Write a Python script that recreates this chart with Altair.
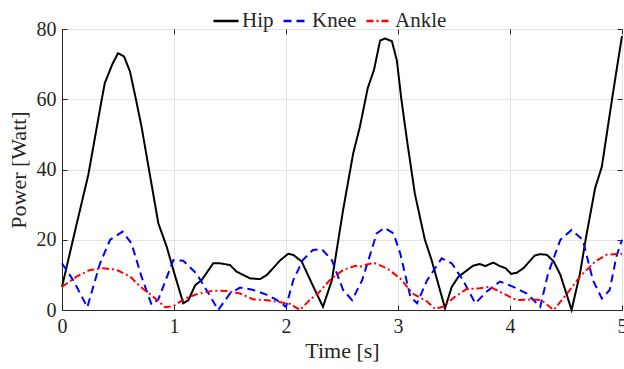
import altair as alt
import pandas as pd

# ---------------- data ----------------
hip_t = [0, 0.12, 0.235, 0.354, 0.382, 0.45, 0.5, 0.554, 0.607, 0.66, 0.71, 0.86, 0.935, 0.994,
         1.083, 1.128, 1.19, 1.247, 1.35, 1.41, 1.5, 1.56, 1.68, 1.77, 1.83, 1.95, 2.02, 2.065,
         2.14, 2.23, 2.33, 2.41, 2.51, 2.60, 2.66, 2.73, 2.786, 2.84, 2.886, 2.946, 2.99, 3.03,
         3.08, 3.15, 3.24, 3.30, 3.42, 3.48, 3.54, 3.60, 3.67, 3.73, 3.78, 3.85, 3.91, 3.96,
         4.01, 4.06, 4.12, 4.22, 4.27, 4.33, 4.39, 4.45, 4.55, 4.625, 4.68, 4.76, 4.82, 4.91,
         4.96, 5.0]
hip_v = [6.6, 23, 38.5, 59.8, 64.6, 70, 73.1, 72.2, 67.9, 60, 52.2, 24.7, 18, 11.4,
         1.9, 2.8, 7.1, 8.5, 13.3, 13.3, 12.8, 10.9, 9.0, 8.8, 10, 14.2, 16, 15.7,
         13.8, 7.6, 0.9, 8.5, 28.5, 44.6, 52.2, 63.2, 68.4, 76.7, 77.3, 76.5, 71, 60,
         48.4, 33.2, 20, 14.2, 0.5, 6.6, 9.5, 10.9, 12.6, 13.1, 12.5, 13.5, 12.5, 11.9,
         10.3, 10.6, 11.9, 15.5, 15.9, 15.7, 13.8, 10, 0, 10.4, 20.9, 34.7, 40.8, 59.8,
         70, 78]

knee_t = [0, 0.1, 0.226, 0.34, 0.43, 0.54, 0.62, 0.71, 0.80, 0.86, 0.994, 1.083, 1.20, 1.29,
          1.395, 1.5, 1.59, 1.71, 1.83, 1.92, 2.0, 2.065, 2.15, 2.24, 2.32, 2.41, 2.51, 2.59,
          2.68, 2.81, 2.88, 2.96, 3.02, 3.11, 3.17, 3.26, 3.39, 3.48, 3.58, 3.69, 3.79, 3.91,
          4.03, 4.15, 4.27, 4.34, 4.45, 4.55, 4.65, 4.74, 4.82, 4.89, 4.95, 5.0]
knee_v = [13.3, 8.5, 0.8, 13.3, 20, 22.3, 19, 9.5, 1.5, 3, 14.2, 14, 10.4, 5.7,
          0, 4.7, 6.4, 5.7, 4.3, 2.8, 0.9, 8.5, 14.2, 17.1, 17.3, 14.2, 5.7, 2.8,
          8.5, 21.8, 23.4, 21.8, 16.1, 3.8, 1.9, 8.5, 14.7, 13.3, 8.5, 1.9, 5.2, 8.1,
          6.6, 4.7, 0.9, 10.4, 20, 22.8, 20, 8.5, 3.3, 5.7, 15.2, 20]

ankle_t = [0, 0.13, 0.25, 0.37, 0.49, 0.61, 0.70, 0.815, 0.92, 0.994, 1.10, 1.20, 1.35, 1.47,
           1.59, 1.71, 1.83, 1.95, 2.04, 2.125, 2.21, 2.30, 2.39, 2.51, 2.62, 2.66, 2.78, 2.90,
           3.02, 3.13, 3.26, 3.33, 3.40, 3.51, 3.61, 3.73, 3.82, 3.94, 4.06, 4.21, 4.28, 4.39,
           4.51, 4.625, 4.76, 4.86, 5.0]
ankle_v = [6.6, 9.5, 11.4, 11.9, 11.4, 9.5, 6.6, 3.8, 0.8, 1.1, 3.3, 4.5, 5.5, 5.4,
           4.7, 3.0, 2.8, 2.2, 1.7, 0, 2.8, 5.2, 8.5, 11.4, 12.6, 12.3, 13.5, 11.9,
           9.0, 4.7, 2.4, 0.3, 0.9, 3.8, 5.9, 6.2, 6.6, 4.7, 2.8, 3.0, 2.8, 0,
           4.7, 9.5, 13.8, 15.7, 16]

series_names = ["Hip", "Knee", "Ankle"]
series_colors = ["#000000", "#0000ff", "#ff0000"]
series_dashes = [[1, 0], [8, 5], [7, 3, 2, 3]]

x_ticks = [0, 1, 2, 3, 4, 5]
y_ticks = [0, 20, 40, 60, 80]

rows = []
for name, ts, vs in [("Hip", hip_t, hip_v), ("Knee", knee_t, knee_v), ("Ankle", ankle_t, ankle_v)]:
    for t, v in zip(ts, vs):
        rows.append({"t": t, "p": v, "s": name})
df = pd.DataFrame(rows)

FONT = "Liberation Serif"
DARK = "#262626"

xscale = alt.Scale(domain=[0, 5], nice=False)
yscale = alt.Scale(domain=[0, 80], nice=False)

main_x = alt.Axis(orient="bottom", values=x_ticks, format="d", title="Time [s]",
                  grid=True, gridColor="#e3e3e3", ticks=False, domainColor=DARK,
                  labelFlush=False, labelOverlap=False,
                  labelFont=FONT, labelFontSize=20, labelColor=DARK, labelPadding=6,
                  titleFont=FONT, titleFontSize=22, titleFontWeight="normal",
                  titleColor=DARK, titlePadding=4)
main_y = alt.Axis(orient="left", values=y_ticks, format="d", title="Power [Watt]",
                  grid=True, gridColor="#e3e3e3", ticks=False, domainColor=DARK,
                  labelFlush=False, labelOverlap=False,
                  labelFont=FONT, labelFontSize=20, labelColor=DARK, labelPadding=6,
                  titleFont=FONT, titleFontSize=22, titleFontWeight="normal",
                  titleColor=DARK, titlePadding=6)

def tick_axis(orient, vals):
    return alt.Axis(orient=orient, values=vals, labels=False, domain=False, grid=False,
                    ticks=True, tickSize=5, offset=-5, tickColor=DARK, title="")

base = alt.Chart(df)

lines = base.mark_line(strokeWidth=2).encode(
    x=alt.X("t:Q", scale=xscale, axis=main_x),
    y=alt.Y("p:Q", scale=yscale, axis=main_y),
    color=alt.Color("s:N", scale=alt.Scale(domain=series_names, range=series_colors),
                    legend=alt.Legend(title="", orient="none", direction="horizontal",
                                      legendX=150, legendY=-22, symbolType="stroke",
                                      symbolSize=625, symbolStrokeWidth=2.5,
                                      labelFont=FONT, labelFontSize=21, labelColor=DARK,
                                      labelOffset=2, columnPadding=4)),
    strokeDash=alt.StrokeDash("s:N", scale=alt.Scale(domain=series_names, range=series_dashes),
                              legend=None),
)

ticks_a = base.mark_point(opacity=0).encode(
    x=alt.X("t:Q", scale=xscale, axis=tick_axis("bottom", x_ticks)),
    y=alt.Y("p:Q", scale=yscale, axis=tick_axis("left", y_ticks)),
)
ticks_b = base.mark_point(opacity=0).encode(
    x=alt.X("t:Q", scale=xscale, axis=tick_axis("top", x_ticks)),
    y=alt.Y("p:Q", scale=yscale, axis=tick_axis("right", y_ticks)),
)

chart = alt.layer(lines, ticks_a, ticks_b).resolve_axis(
    x="independent", y="independent"
).properties(
    width=560, height=281,
    autosize=alt.AutoSizeParams(type="none"),
    padding={"left": 62, "top": 29, "right": 2, "bottom": 59},
).configure_view(stroke=DARK, strokeWidth=1).configure(background="white")

chart.save("out.html", embed_options={"renderer": "svg", "actions": False})
